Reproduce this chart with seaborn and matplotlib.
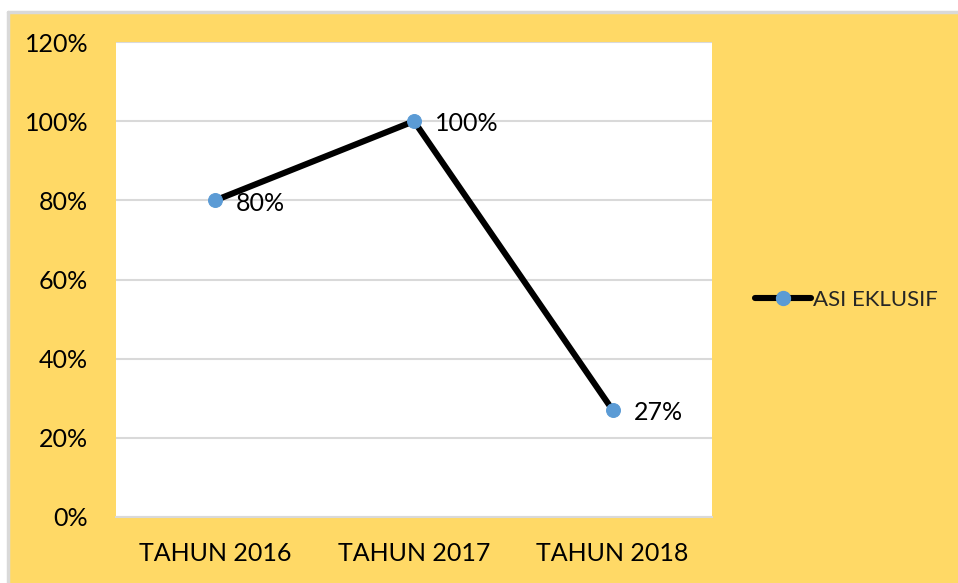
import matplotlib
matplotlib.use("Agg")
import matplotlib.pyplot as plt
from matplotlib.patches import Rectangle
from matplotlib.lines import Line2D
import pandas as pd
import seaborn as sns

# data
categories = ["TAHUN 2016", "TAHUN 2017", "TAHUN 2018"]
asi_eksklusif = [80, 100, 27]
series_name = "ASI EKLUSIF"
y_ticks = [0, 20, 40, 60, 80, 100, 120]

YELLOW = "#FFD966"
BLUE = "#5B9BD5"
GRID = "#D9D9D9"

sns.set_theme(style="whitegrid")
plt.rcParams["font.family"] = ["Lato", "DejaVu Sans"]

df = pd.DataFrame({"tahun": categories, "nilai": asi_eksklusif})

fig = plt.figure(figsize=(9.58, 5.83), dpi=100, facecolor="white")
# yellow chart area, grey border only visible on top and left
left_edge = 8 / 958
top_edge = 1 - 12 / 583
bg = Rectangle((left_edge, 0), 1 - left_edge, top_edge,
               transform=fig.transFigure, facecolor=YELLOW,
               edgecolor="none", zorder=-5)
fig.patches.append(bg)
fig.lines.append(Line2D([left_edge, left_edge], [0, top_edge], transform=fig.transFigure,
                        color=GRID, linewidth=2.5, zorder=-4))
fig.lines.append(Line2D([left_edge, 1], [top_edge, top_edge], transform=fig.transFigure,
                        color=GRID, linewidth=2.5, zorder=-4))

ax = fig.add_axes([116 / 958, 1 - 517 / 583, (712 - 116) / 958, (517 - 42) / 583])
ax.set_zorder(2)
ax.set_facecolor("white")

x = list(range(len(categories)))
sns.lineplot(x=x, y=df["nilai"], ax=ax, color="black", linewidth=4.4,
             marker="o", markersize=10, markerfacecolor=BLUE,
             markeredgecolor=BLUE, zorder=3)

for xi, v in zip(x, asi_eksklusif):
    ax.annotate(f"{v}%", (xi, v), textcoords="offset points", xytext=(15, -2),
                ha="left", va="center", fontsize=18, color="black")

ax.set_xlim(-0.5, len(categories) - 0.5)
ax.set_ylim(0, 120)
ax.set_yticks(y_ticks)
ax.set_yticklabels([f"{t}%" for t in y_ticks])
ax.set_xticks(x)
ax.set_xticklabels(categories)
ax.set_xlabel("")
ax.set_ylabel("")

ax.grid(axis="y", color=GRID, linewidth=1.5)
ax.grid(axis="x", visible=False)
for side in ["left", "right", "top"]:
    ax.spines[side].set_visible(False)
ax.spines["bottom"].set_color(GRID)
ax.spines["bottom"].set_linewidth(1.5)
ax.tick_params(axis="both", length=0, labelsize=18, colors="black")
ax.tick_params(axis="y", pad=20)
ax.tick_params(axis="x", pad=18)

handle = Line2D([0], [0], color="black", linewidth=4.4, marker="o",
                markersize=10, markerfacecolor=BLUE, markeredgecolor=BLUE)
fig.legend([handle], [series_name], loc="center left",
           bbox_to_anchor=(735 / 958, 1 - 300 / 583), frameon=False,
           fontsize=16, handlelength=2.5, handletextpad=0.1)

fig.savefig("out.png", dpi=100, facecolor=fig.get_facecolor())
